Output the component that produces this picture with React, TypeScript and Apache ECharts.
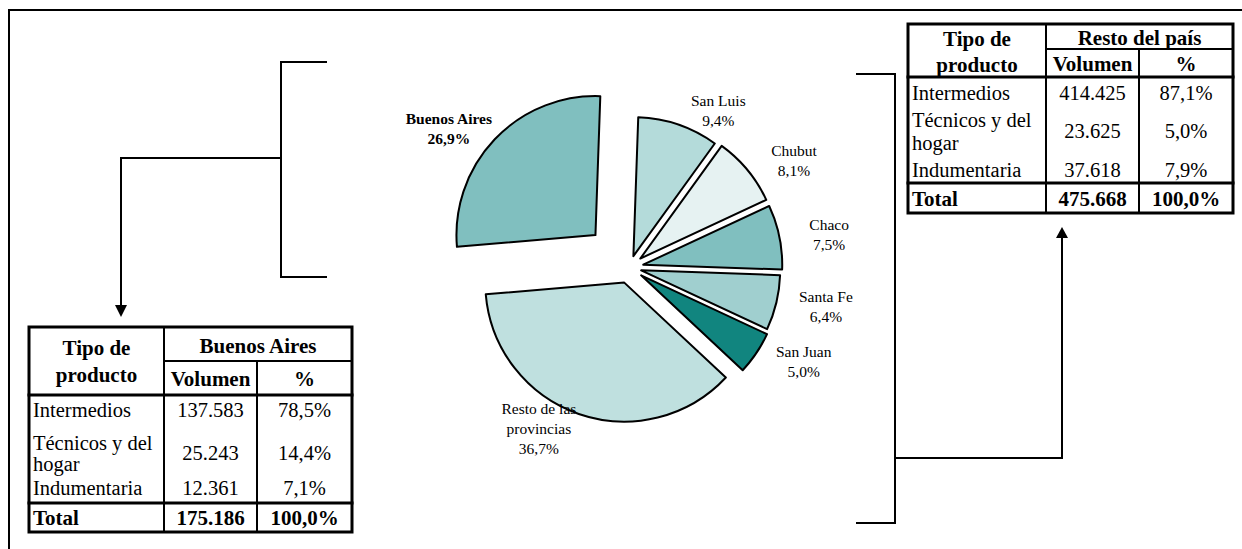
import React, { useEffect, useRef } from "react";
import * as echarts from "echarts";

// ---------- Data ----------
const regions = ["San Luis", "Chubut", "Chaco", "Santa Fe", "San Juan", "Resto de las provincias", "Buenos Aires"];
const regionLabels = ["San Luis", "Chubut", "Chaco", "Santa Fe", "San Juan", "Resto de las\nprovincias", "Buenos Aires"];
const shares = [9.4, 8.1, 7.5, 6.4, 5.0, 36.7, 26.9];

const productTypes = ["Intermedios", "Técnicos y del\nhogar", "Indumentaria"];
const baVolumes = [137583, 25243, 12361];
const baShares = [78.5, 14.4, 7.1];
const baTotal = 175186;
const restVolumes = [414425, 23625, 37618];
const restShares = [87.1, 5.0, 7.9];
const restTotal = 475668;

// ---------- Styles / layout ----------
const FONT = '"Liberation Serif", "Times New Roman", serif';
const sliceColors = ["#B4DBDA", "#E6F2F2", "#80BFBF", "#A0CFCF", "#11857F", "#BFE0DF", "#80BFBF"];
const sliceOffsets = [12, 14, 14, 12, 14, 16, 47];
const labelPos = [
  [712, 105],
  [776, 155],
  [809, 230],
  [806, 310],
  [763, 372],
  [478, 395],
  [427, 119],
];
const PIE_CENTER = [629.5, 267.5];
const PIE_RADIUS = 139;

const fmtVol = (n: number) => String(n).replace(/\B(?=(\d{3})+(?!\d))/g, ".");
const fmtPct = (n: number) => n.toFixed(1).replace(".", ",") + "%";

type TableLayout = {
  cols: number[];
  rows: number[]; // top, headerMid, headerBottom, totalTop, bottom
  hdr: { tipo: number; producto: number; region: number; sub: number };
  body: number[]; // center y for each product row
  lineH: number;
  total: number;
};

const leftLayout: TableLayout = {
  cols: [29, 164, 257, 352],
  rows: [327, 361, 395, 503, 532],
  hdr: { tipo: 348, producto: 375, region: 346, sub: 379 },
  body: [410, 453, 488],
  lineH: 21,
  total: 518,
};
const rightLayout: TableLayout = {
  cols: [908, 1046, 1139, 1233],
  rows: [24, 49, 77, 183, 213],
  hdr: { tipo: 39, producto: 65, region: 38, sub: 64 },
  body: [93, 131, 170],
  lineH: 23,
  total: 199,
};

function txt(text: string, x: number, y: number, opts: any = {}) {
  const align = opts.align || "center";
  return {
    type: "text",
    silent: true,
    style: {
      text,
      x,
      y,
      fill: "#000",
      fontFamily: FONT,
      fontSize: opts.size || 20.5,
      fontWeight: opts.bold ? "bold" : "normal",
      lineHeight: opts.lineHeight || 21,
      align,
      textAlign: align,
      verticalAlign: "middle",
      textVerticalAlign: "middle",
    },
  };
}

function ln(x1: number, y1: number, x2: number, y2: number, w = 2) {
  return {
    type: "line",
    silent: true,
    shape: { x1, y1, x2, y2 },
    style: { stroke: "#000", lineWidth: w, lineCap: "square" },
  };
}

function buildTable(L: TableLayout, title: string, vols: number[], pcts: number[], total: number) {
  const [c0, c1, c2, c3] = L.cols;
  const [r0, r1, r2, r3, r4] = L.rows;
  const els: any[] = [];
  els.push({
    type: "rect",
    silent: true,
    shape: { x: c0, y: r0, width: c3 - c0, height: r4 - r0 },
    style: { fill: "#fff", stroke: "#000", lineWidth: 3 },
  });
  els.push(ln(c1, r0, c1, r4, 2));
  els.push(ln(c2, r1, c2, r4, 2));
  els.push(ln(c1, r1, c3, r1, 2));
  els.push(ln(c0, r2, c3, r2, 3));
  els.push(ln(c0, r3, c3, r3, 3));
  const m0 = (c0 + c1) / 2;
  const m1 = (c1 + c2) / 2;
  const m2 = (c2 + c3) / 2;
  const m12 = (c1 + c3) / 2;
  els.push(txt("Tipo de", m0, L.hdr.tipo, { bold: true, size: 21 }));
  els.push(txt("producto", m0, L.hdr.producto, { bold: true, size: 21 }));
  els.push(txt(title, m12, L.hdr.region, { bold: true, size: 21 }));
  els.push(txt("Volumen", m1, L.hdr.sub, { bold: true, size: 21 }));
  els.push(txt("%", m2, L.hdr.sub, { bold: true, size: 21 }));
  productTypes.forEach((p, i) => {
    els.push(txt(p, c0 + 4, L.body[i], { align: "left", lineHeight: L.lineH }));
    els.push(txt(fmtVol(vols[i]), m1, L.body[i]));
    els.push(txt(fmtPct(pcts[i]), m2, L.body[i]));
  });
  els.push(txt("Total", c0 + 4, L.total, { align: "left", bold: true, size: 21 }));
  els.push(txt(fmtVol(total), m1, L.total, { bold: true, size: 21 }));
  els.push(txt(fmtPct(100), m2, L.total, { bold: true, size: 21 }));
  return els;
}

function buildConnectors() {
  const els: any[] = [];
  // frame
  els.push(ln(9, 10, 1242, 10, 2));
  els.push(ln(9, 10, 9, 549, 2));
  // left bracket + arrow down
  els.push(ln(281, 62, 281, 277));
  els.push(ln(281, 62, 326, 62));
  els.push(ln(281, 277, 326, 277));
  els.push(ln(121, 158, 281, 158));
  els.push(ln(121, 158, 121, 306));
  els.push({
    type: "polygon",
    silent: true,
    shape: { points: [[115, 305], [127, 305], [121, 317]] },
    style: { fill: "#000" },
  });
  // right bracket + arrow up
  els.push(ln(895, 74, 895, 523));
  els.push(ln(857, 74, 895, 74));
  els.push(ln(857, 523, 895, 523));
  els.push(ln(895, 458, 1062, 458));
  els.push(ln(1062, 458, 1062, 237));
  els.push({
    type: "polygon",
    silent: true,
    shape: { points: [[1056, 238], [1068, 238], [1062, 227]] },
    style: { fill: "#000" },
  });
  return els;
}

function buildSeries() {
  return regions.map((_, i) => ({
    type: "pie",
    id: "slice" + i,
    center: PIE_CENTER,
    radius: PIE_RADIUS,
    startAngle: 88,
    clockwise: true,
    selectedMode: "multiple",
    selectedOffset: sliceOffsets[i],
    silent: true,
    avoidLabelOverlap: false,
    emphasis: { disabled: true },
    labelLine: { show: false },
    label: {
      show: true,
      position: "outside",
      color: "#000",
      fontFamily: FONT,
      fontSize: 15.5,
      lineHeight: 20,
      fontWeight: i === 6 ? "bold" : "normal",
      formatter: (p: any) => regionLabels[p.dataIndex] + "\n" + fmtPct(shares[p.dataIndex]),
    },
    labelLayout: (p: any) =>
      p.dataIndex === i
        ? { x: labelPos[i][0], y: labelPos[i][1], align: "center", verticalAlign: "middle" }
        : {},
    data: regions.map((name, j) => ({
      name,
      value: shares[j],
      selected: j === i,
      itemStyle:
        j === i
          ? { color: sliceColors[j], borderColor: "#000", borderWidth: 2 }
          : { color: "rgba(0,0,0,0)", borderWidth: 0 },
      label: { show: j === i },
    })),
  }));
}

export default function App() {
  const ref = useRef<HTMLDivElement>(null);
  useEffect(() => {
    if (!ref.current) return;
    const chart = echarts.init(ref.current, undefined, { renderer: "svg" });
    chart.setOption({
      animation: false,
      backgroundColor: "#fff",
      series: buildSeries(),
      graphic: {
        elements: [
          ...buildConnectors(),
          ...buildTable(leftLayout, "Buenos Aires", baVolumes, baShares, baTotal),
          ...buildTable(rightLayout, "Resto del país", restVolumes, restShares, restTotal),
        ],
      },
    });
    return () => chart.dispose();
  }, []);
  return (
    <div
      ref={ref}
      style={{ position: "fixed", left: 0, top: 0, width: 1242, height: 549, background: "#fff" }}
    />
  );
}
